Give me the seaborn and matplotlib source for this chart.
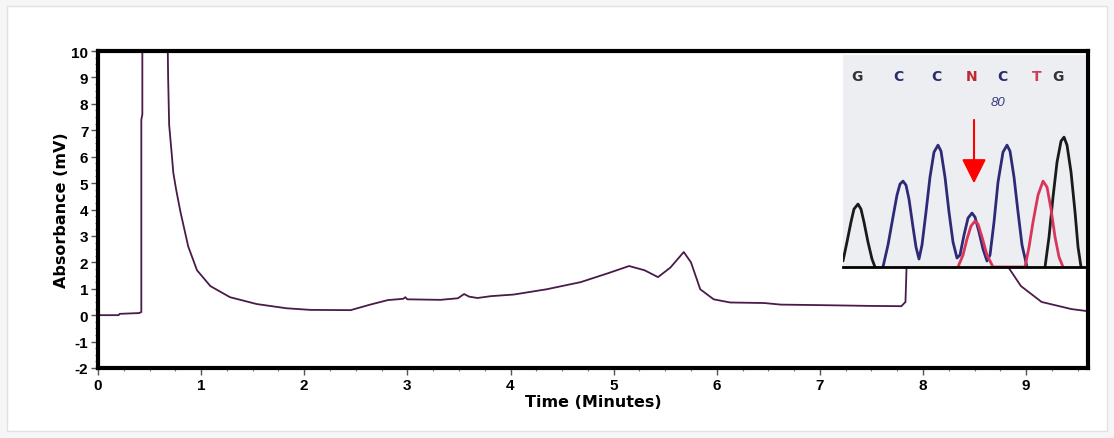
import numpy as np
import pandas as pd
import matplotlib
matplotlib.use("Agg")
import matplotlib.pyplot as plt
import seaborn as sns
from matplotlib.ticker import MultipleLocator
from matplotlib.patches import Rectangle

# main chromatogram trace (minutes, mV)
time_min = [0.00, 0.20, 0.21, 0.40, 0.42, 0.42, 0.43, 0.43, 0.67, 0.68, 0.69, 0.715,
            0.73, 0.757, 0.80, 0.875, 0.96, 1.09, 1.28, 1.54, 1.83, 2.06, 2.45, 2.64,
            2.81, 2.96, 2.98, 3.00, 3.32, 3.49, 3.55, 3.60, 3.68, 3.81, 4.03, 4.35,
            4.68, 4.94, 5.15, 5.30, 5.43, 5.55, 5.68, 5.75, 5.84, 5.97, 6.13, 6.46,
            6.62, 7.00, 7.50, 7.79, 7.83, 7.85, 8.80, 8.83, 8.95, 9.15, 9.44, 9.60]
absorb = [0.00, 0.00, 0.05, 0.08, 0.12, 7.40, 7.60, 12.0, 12.0, 9.00, 7.20, 6.10,
          5.40, 4.77, 3.90, 2.60, 1.70, 1.10, 0.68, 0.42, 0.26, 0.20, 0.19, 0.40,
          0.57, 0.62, 0.68, 0.60, 0.58, 0.64, 0.80, 0.70, 0.65, 0.72, 0.78, 0.98,
          1.25, 1.58, 1.86, 1.70, 1.44, 1.80, 2.39, 2.00, 0.98, 0.60, 0.48, 0.46,
          0.40, 0.38, 0.35, 0.34, 0.50, 3.00, 3.00, 1.80, 1.10, 0.50, 0.23, 0.15]

# inset: sequencing trace (position, signal height)
black_x = [0, 4, 8, 11, 15, 18, 21, 25, 29, 32,
           202, 206, 210, 214, 218, 221, 224, 228, 232, 235, 238]
black_h = [6, 25, 45, 58, 63, 58, 45, 25, 8, 0,
           0, 30, 70, 105, 126, 130, 122, 95, 55, 20, 0]
black_seg = [0] * 10 + [1] * 11
blue_x = [40, 45, 50, 54, 57, 60, 63, 66, 70, 73, 76, 79, 83, 87, 91, 95, 98, 102,
          106, 110, 114, 117, 121, 125, 129, 132, 136, 140, 144, 147, 151, 155,
          160, 164, 167, 171, 175, 179, 184]
blue_h = [0, 22, 50, 72, 83, 86, 82, 68, 40, 20, 8, 22, 55, 90, 115, 122, 116, 90,
          55, 25, 9, 12, 32, 49, 54, 50, 35, 18, 6, 12, 45, 85,
          115, 122, 116, 90, 55, 22, 0]
red_x = [115, 120, 124, 128, 132, 135, 139, 144, 150, 182, 186, 190, 195, 200,
         204, 208, 212, 216, 220]
red_h = [0, 12, 28, 41, 46, 43, 30, 12, 0, 0, 20, 45, 72, 86,
         80, 58, 30, 10, 0]

bases = ["G", "C", "C", "N", "C", "T", "G"]
base_pos = [14, 55, 93, 129, 159, 194, 215]
base_colors = ["#333333", "#2b2b6b", "#2b2b6b", "#c0282f", "#2b2b6b", "#c8405a", "#333333"]

sns.set_theme(style="ticks", rc={"text.color": "black", "axes.labelcolor": "black",
                                 "xtick.color": "black", "ytick.color": "black"})
plt.rcParams["font.family"] = ["Liberation Sans", "DejaVu Sans"]
plt.rcParams["axes.unicode_minus"] = False

fig = plt.figure(figsize=(11.14, 4.39), dpi=100, facecolor="#f6f6f6")
fig.patches.append(Rectangle((7 / 1114, 7 / 439), 1100 / 1114, 425 / 439,
                             transform=fig.transFigure, facecolor="white",
                             edgecolor="#e2e2e2", lw=1, zorder=-5))
ax = fig.add_axes([98 / 1114, 70 / 439, 990 / 1114, 317 / 439])
ax.set_facecolor("white")

main_df = pd.DataFrame({"t": time_min, "a": absorb})
sns.lineplot(data=main_df, x="t", y="a", ax=ax, estimator=None, sort=False,
             color="#4a1a48", lw=1.3)

ax.set_xlim(0, 9.6)
ax.set_ylim(-2, 10)
ax.xaxis.set_major_locator(MultipleLocator(1))
ax.xaxis.set_minor_locator(MultipleLocator(0.25))
ax.yaxis.set_major_locator(MultipleLocator(1))
ax.yaxis.set_minor_locator(MultipleLocator(0.25))
ax.tick_params(which="major", length=5, width=1, color="#555555", pad=2,
               labelsize=11)
ax.tick_params(which="minor", length=2.5, width=0.8, color="#777777")
for lab in ax.get_xticklabels() + ax.get_yticklabels():
    lab.set_fontweight("bold")
for s in ax.spines.values():
    s.set_linewidth(3)
    s.set_color("black")
ax.set_xlabel("Time (Minutes)", fontsize=11.5, fontweight="bold",
              family="DejaVu Sans", labelpad=2)
ax.set_ylabel("Absorbance (mV)", fontsize=11.5, fontweight="bold",
              family="DejaVu Sans", labelpad=2)

# inset with the sequencing chromatogram
ins = ax.inset_axes([0.7525, 0.3186, 0.2445, 0.668])
ins.set_facecolor("#eceef2")
ins.set_xlim(0, 242)
ins.set_ylim(0, 212)
trace_df = pd.concat([
    pd.DataFrame({"x": black_x, "h": black_h, "base": "G", "seg": black_seg}),
    pd.DataFrame({"x": blue_x, "h": blue_h, "base": "C", "seg": 0}),
    pd.DataFrame({"x": red_x, "h": red_h, "base": "T", "seg": 0}),
])
sns.lineplot(data=trace_df, x="x", y="h", hue="base", units="seg", ax=ins,
             estimator=None, sort=False, lw=2, legend=False,
             palette={"G": "#1a1a1a", "C": "#2e2a78", "T": "#d8365a"})
for b, p, c in zip(bases, base_pos, base_colors):
    ins.text(p, 191, b, color=c, ha="center", va="center", fontsize=10,
             fontweight="bold", family="DejaVu Sans")
ins.text(155, 165, "80", color="#3a3a80", ha="center", va="center",
         fontsize=9.5, style="italic")
ins.annotate("", xy=(131, 81), xytext=(131, 150),
             arrowprops=dict(arrowstyle="-|>,head_length=1.0,head_width=0.5",
                             color="red", lw=1.5, mutation_scale=15))
ins.set_xticks([])
ins.set_yticks([])
ins.set_xlabel("")
ins.set_ylabel("")
for k in ["top", "right", "left"]:
    ins.spines[k].set_visible(False)
ins.spines["bottom"].set_linewidth(2)
ins.spines["bottom"].set_color("black")

fig.savefig("out.png", dpi=100, facecolor=fig.get_facecolor())
